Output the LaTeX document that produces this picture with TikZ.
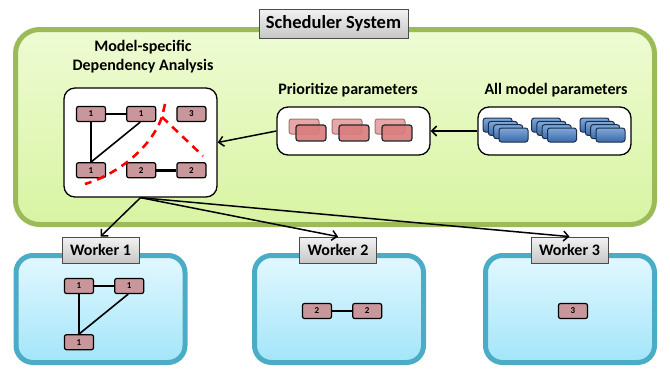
\documentclass[tikz,border=0pt]{standalone}
\usepackage{fontspec}
\setmainfont{Carlito}
\usetikzlibrary{positioning, arrows.meta, calc}
\definecolor{schedline}{HTML}{9BBB59}
\definecolor{schedtop}{HTML}{EEFBD3}
\definecolor{schedbot}{HTML}{D8F4A2}
\definecolor{workline}{HTML}{4BACC6}
\definecolor{worktop}{HTML}{E2F8FF}
\definecolor{workbot}{HTML}{A3E5FA}
\definecolor{noderose}{HTML}{C9979B}
\definecolor{prioback}{HTML}{E9A6A6}
\definecolor{priofront}{HTML}{D97C7C}
\definecolor{bluetop}{HTML}{80A8DA}
\definecolor{bluebot}{HTML}{3A69A8}
\definecolor{blueline}{HTML}{1B2F4D}
\tikzstyle{panel}=[line width=5pt, minimum width=639pt, minimum height=195pt, inner sep=0pt]
\tikzstyle{scheduler}=[panel, rounded corners=24pt, draw=schedline, top color=schedtop, bottom color=schedbot]
\tikzstyle{worker}=[panel, rounded corners=17pt, draw=workline, top color=worktop, bottom color=workbot, minimum width=169pt, minimum height=107pt]
\tikzstyle{tag}=[draw=black!70, line width=0.8pt, top color=white!95!black, bottom color=black!22, font=\bfseries\fontsize{16}{18}\selectfont, minimum width=77pt, minimum height=26pt, inner sep=0pt]
\tikzstyle{holder}=[draw, fill=white, rounded corners=11pt, line width=1.3pt, minimum width=153pt, minimum height=48pt, inner sep=0pt]
\tikzstyle{caption}=[font=\bfseries\fontsize{16}{19}\selectfont, align=center]
\tikzstyle{param}=[draw, fill=noderose, rounded corners=2pt, line width=1.2pt, minimum width=29pt, minimum height=15pt, inner sep=0pt, font=\bfseries\fontsize{9}{9}\selectfont]
\tikzstyle{link}=[line width=2.8pt]
\tikzstyle{weak}=[line width=1.6pt]
\tikzstyle{myarrow}=[-{Straight Barb[length=5pt, width=10pt]}, line width=1.5pt]
\tikzstyle{cut}=[draw=red, line width=2.6pt, dash pattern=on 8pt off 6pt]

\begin{document}
\begin{tikzpicture}[x=1pt, y=-1pt, node distance=20pt]
    \useasboundingbox (0,0) rectangle (670,368);

    % scheduler
    \node[scheduler] (sched) at (335,127) {};
    \node[tag, minimum width=149pt, minimum height=29pt, font=\bfseries\fontsize{18.5}{20}\selectfont] (schedtag) at (333.5,23.5) {Scheduler System};

    % workers
    \node[worker] (w1) at (100.5,309) {};
    \node[worker] (w2) at (339,309) {};
    \node[worker] (w3) at (570,309) {};
    \node[tag] (w1tag) at (100.5,250) {Worker 1};
    \node[tag] (w2tag) at (338,250) {Worker 2};
    \node[tag] (w3tag) at (569.5,250) {Worker 3};

    % parameter boxes
    \node[holder, minimum height=109pt] (dep) at (140.5,142.5) {};
    \node[holder] (prio) at (353.5,131) {};
    \node[holder] (allp) at (554.5,131) {};
    \node[caption] (deplabel) at (143,57) {Model-specific\\Dependency Analysis};
    \node[caption] (priolabel) at (348,90) {Prioritize parameters};
    \node[caption] (allplabel) at (556,90) {All model parameters};

    \foreach \i in {0,1,2} {
        \draw[draw=prioback!70!black, fill=prioback, rounded corners=2.5pt, line width=1pt]
            ($(289,119)+(43*\i,0)$) rectangle ++(30,15);
        \draw[draw=black!85, fill=priofront, fill opacity=0.9, rounded corners=2.5pt, line width=1.2pt]
            ($(296,125)+(43*\i,0)$) rectangle ++(30,16);
    }
    \foreach \i in {0,1,2} {
        \foreach \k in {3,2,1,0} {
            \draw[draw=blueline, top color=bluetop, bottom color=bluebot, rounded corners=2.5pt, line width=1pt]
                (499+48.5*\i-5.3*\k, 128-3.3*\k) rectangle ++(29,14);
        }
    }

    % dependency graph
    \node[param] (a1) at (91,114) {1};
    \node[param, right=of a1] (a2) {1};
    \node[param, right=of a2] (a3) {3};
    \node[param, below=40pt of a1] (a4) {1};
    \node[param, right=of a4] (b1) {2};
    \node[param, right=of b1] (b2) {2};
    \draw[link] (a1) -- (a2);
    \draw[link] (a1) -- (a4);
    \draw[link] (b1) -- (b2);
    \draw[weak] (a2.south) ++(-1,0) -- (a4.north);
    \draw[cut] (165,104) -- (162,117) .. controls (150,150) and (115,175) .. (85,184);
    \draw[cut] (162,117) -- (203,156);

    % worker graphs
    \node[param] (c1) at (79,286) {1};
    \node[param, right=of c1] (c2) {1};
    \node[param, below=40pt of c1] (c3) {1};
    \draw[link] (c1) -- (c2);
    \draw[link] (c1) -- (c3);
    \draw[weak] (c2.south) ++(-1,0) -- (c3.north);

    \node[param] (d1) at (317,311) {2};
    \node[param, right=of d1] (d2) {2};
    \draw[link] (d1) -- (d2);

    \node[param] (e1) at (573,311) {3};

    % arrows
    \draw[myarrow] (allp) -- (prio);
    \draw[myarrow] (prio.west) -- (dep.east);
    \draw[myarrow] (dep.south) -- (w1tag.north);
    \draw[myarrow] (dep.south) -- (w2tag.north);
    \draw[myarrow] (dep.south) -- (w3tag.north);
\end{tikzpicture}
\end{document}
